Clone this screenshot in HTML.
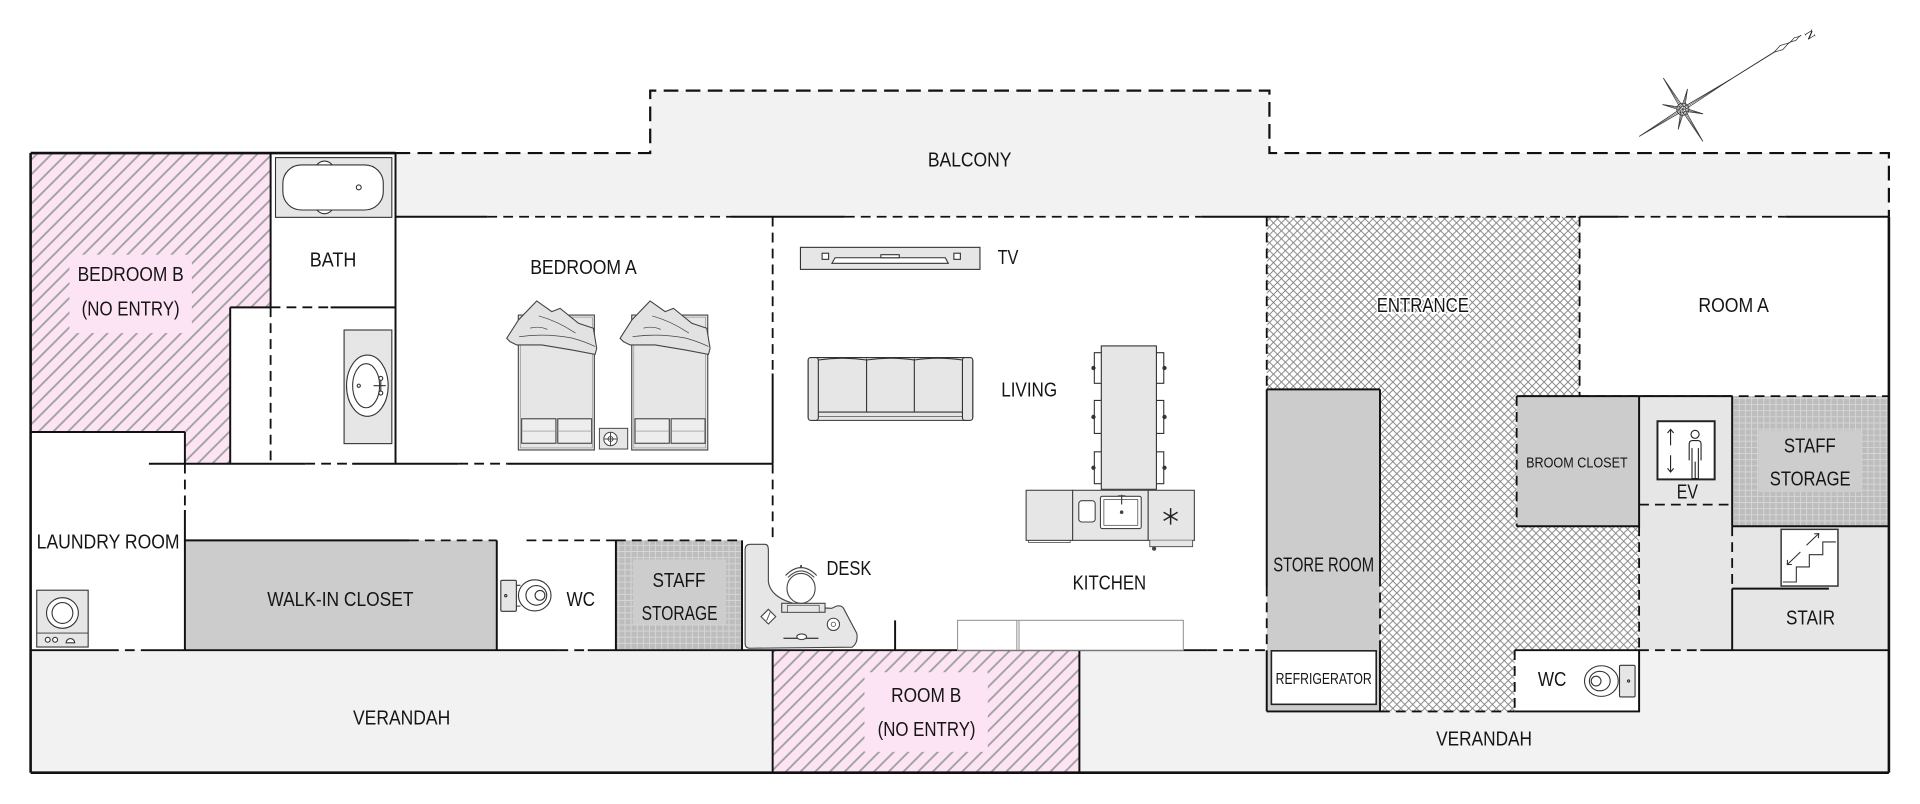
<!DOCTYPE html>
<html><head><meta charset="utf-8"><style>
html,body{margin:0;padding:0;background:#fff;}
svg{display:block;}
text{font-family:"Liberation Sans",sans-serif;fill:#151515;font-size:16.5px;}
</style></head><body>
<svg width="1920" height="804" viewBox="0 0 1568 656.6" preserveAspectRatio="none" xmlns="http://www.w3.org/2000/svg">
<defs>
<pattern id="pink" patternUnits="userSpaceOnUse" width="12" height="12">
 <rect width="12" height="12" fill="#fde4f5"/>
 <path d="M-3,3 L3,-3 M0,12 L12,0 M9,15 L15,9" stroke="#a0a0a0" stroke-width="1.5"/>
</pattern>
<pattern id="cross" patternUnits="userSpaceOnUse" width="6.5" height="6.5">
 <rect width="6.5" height="6.5" fill="#fff"/>
 <path d="M0,0 L6.5,6.5 M6.5,0 L0,6.5" stroke="#7c7c7c" stroke-width="0.7"/>
</pattern>
<pattern id="grid" patternUnits="userSpaceOnUse" width="5" height="5">
 <rect width="5" height="5" fill="#bdbdbd"/>
 <path d="M0,0.4 H5 M0.4,0 V5" stroke="#d6d6d6" stroke-width="0.8"/>
</pattern>
</defs>

<!-- FILLS -->
<polygon points="323,125 531,125 531,74 1036.7,74 1036.7,125 1542.6,125 1542.6,177 323,177" fill="#f2f2f2"/>
<rect x="25" y="531" width="1517.6" height="100" fill="#f2f2f2"/>
<rect x="631" y="531" width="250.5" height="100" fill="url(#pink)"/>
<polygon points="25,125 221,125 221,251 188,251 188,378.7 151,378.7 151,352.8 25,352.8" fill="url(#pink)"/>
<rect x="56.7" y="208" width="100" height="64" fill="#fde4f5"/>
<rect x="706" y="549" width="100.7" height="65" fill="#fde4f5"/>
<polygon points="1034.5,177 1290,177 1290,323.5 1238.6,323.5 1238.6,429.8 1338.6,429.8 1338.6,531 1237,531 1237,581 1127,581 1127,318 1034.5,318" fill="url(#cross)"/>
<rect x="1034.5" y="318" width="92.5" height="263" fill="#cccccc"/>
<rect x="1238.6" y="323.5" width="100" height="106.3" fill="#cccccc"/>
<rect x="1338.6" y="323.5" width="76" height="207.5" fill="#e6e6e6"/>
<rect x="1414.6" y="429.8" width="128" height="101.2" fill="#e6e6e6"/>
<rect x="1414.6" y="323.5" width="128" height="106.3" fill="url(#grid)"/>
<rect x="1436" y="351.4" width="84" height="50.4" fill="#cdcdcd"/>
<rect x="1237" y="531" width="101.6" height="50" fill="#fff"/>
<rect x="151" y="441.3" width="254.7" height="89.7" fill="#cccccc"/>
<rect x="503" y="441.3" width="103" height="89.7" fill="url(#grid)"/>
<rect x="517" y="457" width="76" height="53" fill="#cdcdcd"/>

<!-- REFRIGERATOR BOX -->
<rect x="1038.3" y="531.5" width="85.6" height="43.7" fill="#fff" stroke="#222" stroke-width="1.3"/>

<!-- SOLID WALLS -->
<path fill="none" stroke="#111" stroke-width="2.1" d="M25,125 H323 M25,125 V631 M25,631 H1542.6 M1542.6,177 V631"/>
<path fill="none" stroke="#111" stroke-width="1.6" d="
M221,125 V251 M188,251 H221 M188,251 V378.7 M121.6,378.7 H249.3 M287.6,378.7 H374.3 M414.3,378.7 H631
M151,352.8 V378.7 M25,352.8 H151 M323,125 V378.7 M270,251 H323
M323,177 H398 M597,177 H690 M981,177 H1045 M1290,177 H1322 M1458,177 H1542.6
M631,305 V378.7 M151,416.5 V531 M151,441.3 H334 M405.7,441.3 V531 M503,441.3 V531 M606,441.3 V531
M25,531 H89 M118,531 H456 M480,531 H986 M731,506.6 V531 M631,531 V631 M881.5,531 V631
M1034.5,318 H1127 M1034.5,318 V479 M1034.5,531 V581 M1127,318 V471 M1127,531 V581 M1034.5,581 H1127
M1238.6,323.5 H1338.6 V429.8 H1238.6 M1338.6,323.5 H1414.6 M1414.6,323.5 V429.8 M1414.6,429.8 H1542.6
M1414.6,480.7 H1493.6 M1414.6,480.7 V531 M1237,531 H1338.6 V581 H1237 M1388.6,531 H1542.6"/>

<!-- DASHED -->
<path fill="none" stroke="#111" stroke-width="1.8" stroke-dasharray="12 6" d="M323,125 H531 V74 H1036.7 V125 H1542.6 V177"/>
<path fill="none" stroke="#111" stroke-width="1.5" stroke-dasharray="8 5" d="
M398,177 H597 M690,177 H981 M1045,177 H1290 M1322,177 H1458
M221,251 H270 M221,251 V378.7 M249.3,378.7 H287.6 M374.3,378.7 H414.3
M631,177 V305 M631,378.7 V441.3 M151,378.7 V416.5
M334,441.3 H405.7 M430,441.3 H503 M503,441.3 H606
M89,531 H118 M456,531 H480 M986,531 H1034.5
M1034.5,177 V318 M1034.5,479 V531 M1127,471 V531 M1290,177 V323.5 M1290,323.5 H1542.6
M1238.6,323.5 V429.8 M1338.6,429.8 V531 M1338.6,412.1 H1414.6 M1414.6,429.8 V480.7
M1338.6,531 H1388.6 M1237,531 V581 M1127,581 H1237"/>

<!-- BATHTUB -->
<g stroke="#333" stroke-width="0.9">
<rect x="225" y="128.7" width="95" height="48.8" fill="#e6e6e6"/>
<ellipse cx="265" cy="153" rx="12" ry="21.5" fill="#fff"/>
<rect x="231" y="134.7" width="82" height="36.8" rx="15" fill="#fff"/>
<circle cx="293" cy="153" r="2" fill="#fff"/>
</g>
<!-- SINK -->
<g stroke="#333" stroke-width="0.9">
<rect x="281" y="269.5" width="39" height="92.8" fill="#e6e6e6"/>
<ellipse cx="300" cy="315" rx="17" ry="25" fill="#fff"/>
<ellipse cx="299" cy="315" rx="11" ry="18" fill="#fff"/>
<circle cx="293" cy="315" r="1.3" fill="#fff"/>
<path d="M305,315 H315 M311,309 V321" fill="none"/>
<circle cx="311" cy="309" r="1.6" fill="#fff"/><circle cx="311" cy="321" r="1.6" fill="#fff"/>
</g>

<!-- BEDS -->
<g stroke="#444" stroke-width="0.9">
<rect x="423.3" y="257.3" width="62.1" height="110.2" fill="#e6e6e6"/>
<rect x="425" y="259" width="58.7" height="106.8" fill="none" stroke="#888" stroke-width="0.5"/>
<rect x="426" y="342" width="28" height="20" fill="#ededed"/>
<rect x="455.5" y="342" width="27.7" height="20" fill="#ededed"/>
<path d="M426,352 H454 M455.5,352 H483.2" stroke="#888" stroke-width="0.5"/>
<path d="M413.8,276.3 L423.4,261.3 L438.3,245.8 L450.6,254.5 L457.4,251.8 L472.4,264 L484.6,268.1 L487.3,284.5 L486,289.4 L466.9,285.8 L442.4,281.7 L422,281.7 L416.5,279 Z" fill="#e2e2e2"/>
<path d="M424,275 Q445,272 467,276 Q478,279 486,283 M440,258 Q455,262 470,272 M433,268 Q440,266 447,269" fill="none" stroke-width="0.6"/>
</g>
<g transform="translate(92.6,0)" stroke="#444" stroke-width="0.9">
<rect x="423.3" y="257.3" width="62.1" height="110.2" fill="#e6e6e6"/>
<rect x="425" y="259" width="58.7" height="106.8" fill="none" stroke="#888" stroke-width="0.5"/>
<rect x="426" y="342" width="28" height="20" fill="#ededed"/>
<rect x="455.5" y="342" width="27.7" height="20" fill="#ededed"/>
<path d="M426,352 H454 M455.5,352 H483.2" stroke="#888" stroke-width="0.5"/>
<path d="M413.8,276.3 L423.4,261.3 L438.3,245.8 L450.6,254.5 L457.4,251.8 L472.4,264 L484.6,268.1 L487.3,284.5 L486,289.4 L466.9,285.8 L442.4,281.7 L422,281.7 L416.5,279 Z" fill="#e2e2e2"/>
<path d="M424,275 Q445,272 467,276 Q478,279 486,283 M440,258 Q455,262 470,272 M433,268 Q440,266 447,269" fill="none" stroke-width="0.6"/>
</g>
<g stroke="#444" stroke-width="0.8" fill="none">
<rect x="489.5" y="349.8" width="23.1" height="16.9" fill="#e6e6e6"/>
<circle cx="498.6" cy="358.5" r="5.5" fill="#fff"/>
<path d="M498.6,353 V364 M493.1,358.5 H504.1"/>
<circle cx="498.6" cy="358.5" r="2"/>
</g>

<!-- TV -->
<g stroke="#333" stroke-width="0.9" fill="none">
<rect x="653.7" y="202" width="146.6" height="18" fill="#e6e6e6"/>
<rect x="671.4" y="206.8" width="5.3" height="5" fill="#fff"/>
<rect x="779" y="206.8" width="5.3" height="5" fill="#fff"/>
<path d="M682,210.5 H772 L774.4,215 H679.4 Z" fill="#fff"/>
<rect x="719.4" y="208" width="15" height="2.5" fill="#fff"/>
</g>

<!-- SOFA -->
<g stroke="#333" stroke-width="0.9">
<rect x="660" y="292" width="134.4" height="51.3" rx="3" fill="#e6e6e6"/>
<rect x="660" y="292" width="8.3" height="51.3" rx="2" fill="#e6e6e6"/>
<rect x="786" y="292" width="8.4" height="51.3" rx="2" fill="#e6e6e6"/>
<path d="M668.3,336.5 H786 M707.7,293 V336.5 M746.7,293 V336.5 M668.3,294 Q688,291 707.7,294 Q727,291 746.7,294 Q766,291 786,294" fill="none"/>
<path d="M668.3,340 H786" fill="none" stroke-width="0.5"/>
</g>

<!-- DINING TABLE -->
<g stroke="#333" stroke-width="0.9" fill="none">
<rect x="899.4" y="282.5" width="45" height="117.1" fill="#e6e6e6"/>
<path d="M899.4,288 H893.7 V313 H899.4 M899.4,327 H893.7 V354 H899.4 M899.4,369 H893.7 V395 H899.4"/>
<path d="M944.4,288 H950.4 V313 H944.4 M944.4,327 H950.4 V354 H944.4 M944.4,369 H950.4 V395 H944.4"/>
<g fill="#333"><circle cx="893" cy="300.5" r="1.3"/><circle cx="893" cy="340.5" r="1.3"/><circle cx="893" cy="382" r="1.3"/>
<circle cx="951" cy="300.5" r="1.3"/><circle cx="951" cy="340.5" r="1.3"/><circle cx="951" cy="382" r="1.3"/></g>
</g>

<!-- KITCHEN ISLAND -->
<g stroke="#444" stroke-width="0.9" fill="#e6e6e6">
<rect x="838" y="400.4" width="38" height="40.9"/>
<path d="M840,441.3 V443 H874 V441.3" fill="none" stroke-width="0.6"/>
<rect x="876" y="400.4" width="61.7" height="40.9"/>
<rect x="937.7" y="400.4" width="37.7" height="40.9"/>
<path d="M939,441.3 V446.5 H974 V441.3" stroke-width="0.7"/>
<circle cx="942.5" cy="448" r="1.3" fill="#444"/>
<rect x="881" y="408.9" width="13.4" height="17.4" rx="2.5" fill="#fff"/>
<rect x="898.7" y="405.3" width="33.3" height="26.4" rx="1.5" fill="#fff"/>
<rect x="901.5" y="408" width="27.7" height="21" fill="#fff" stroke-width="0.6"/>
<path d="M916,404 V412 M913,405 H919" fill="none" stroke-width="1"/>
<circle cx="916" cy="418.3" r="1" fill="#444"/>
<path d="M956,415 V428.4 M950.3,418.3 L961.7,425 M950.3,425 L961.7,418.3" fill="none" stroke="#222" stroke-width="1.2"/>
</g>

<!-- KITCHEN COUNTER -->
<g stroke="#999" stroke-width="0.9" fill="#fff">
<rect x="782" y="506.6" width="184.4" height="24.4"/>
<path d="M830.4,506.6 V531 M832.2,506.6 V531" fill="none"/>
</g>

<!-- DESK -->
<g stroke="#444" stroke-width="0.9">
<path d="M608.5,449.1 Q608.5,444.5 612.6,444.5 H624.8 Q627.5,444.5 627.5,449.1 V475 Q630.2,495.4 679.2,496.8 L683,495 Q687.4,494 689,497 L699.7,517.2 Q701,525 696,528.5 L612.6,529.4 Q608.5,529.4 608.5,525.4 Z" fill="#e6e6e6"/>
<rect x="638.4" y="492.7" width="35.4" height="7.3" fill="#e6e6e6"/>
<rect x="643" y="494.3" width="26" height="5.7" fill="#e6e6e6" stroke-width="0.6"/>
<ellipse cx="654.2" cy="480.5" rx="11.5" ry="12.2" fill="#fff"/>
<path d="M641.5,470 Q654.2,457 667,470 M643.5,471.5 Q654.2,461 665,471.5" fill="none"/>
<path d="M654.2,461.5 V464" stroke-width="1.5"/>
<path d="M627.5,497.6 L633.5,503.6 L627.5,509.6 L621.5,503.6 Z" fill="#fff"/>
<path d="M626,507 L629,500" fill="none" stroke-width="0.7"/>
<circle cx="680.6" cy="509.9" r="5" fill="#fff"/>
<circle cx="680.6" cy="509.9" r="1.8" fill="none" stroke-width="0.6"/>
<path d="M639.8,521.3 H668.4" fill="none" stroke-width="1.2"/>
<ellipse cx="654.7" cy="520" rx="4" ry="2.3" fill="#fff"/>
</g>

<!-- WASHER -->
<g stroke="#333" stroke-width="0.9">
<rect x="30" y="482" width="42" height="46.4" fill="#e6e6e6"/>
<ellipse cx="51" cy="500.6" rx="13" ry="12.5" fill="#fff"/>
<ellipse cx="51" cy="500.6" rx="8.5" ry="8.5" fill="none"/>
<path d="M30,517 H72" fill="none" stroke-width="0.7"/>
<circle cx="39" cy="522.5" r="2" fill="#fff"/><circle cx="45" cy="522.5" r="2" fill="#fff"/>
<path d="M54,525 a3.5,3.5 0 0 1 7,0 z" fill="#fff"/>
</g>

<!-- TOILETS -->
<g stroke="#333" stroke-width="0.9">
<rect x="409" y="473.9" width="12.7" height="25.3" rx="1" fill="#e6e6e6"/>
<circle cx="413" cy="486.5" r="0.9" fill="none"/>
<path d="M421.7,478 L425,478 M421.7,495 L425,495" fill="none"/>
<ellipse cx="436.7" cy="486.2" rx="13.3" ry="12.7" fill="#fff"/>
<ellipse cx="438" cy="486.2" rx="8.5" ry="8" fill="none"/>
<circle cx="441" cy="486.2" r="4" fill="none"/>
<rect x="1322.6" y="543.3" width="12.7" height="25.9" rx="1" fill="#e6e6e6"/>
<circle cx="1330" cy="556.2" r="0.9" fill="none"/>
<ellipse cx="1307.8" cy="556.2" rx="13.8" ry="12.5" fill="#fff"/>
<ellipse cx="1306.5" cy="556.2" rx="8.5" ry="8" fill="none"/>
<circle cx="1303.5" cy="556.2" r="4" fill="none"/>
</g>

<!-- EV ICON -->
<g stroke="#222" fill="none">
<rect x="1353.6" y="344" width="46.7" height="47.5" fill="#fff" stroke-width="1.6"/>
<path d="M1364.3,363.7 V350.6 M1361.8,353.6 L1364.3,350.6 L1366.8,353.6 M1364.3,371.8 V385.5 M1361.8,382.5 L1364.3,385.5 L1366.8,382.5" stroke-width="0.9"/>
<circle cx="1384.3" cy="354.7" r="3.3" stroke-width="0.9"/>
<path d="M1379.5,376 V362.5 Q1379.5,359.8 1382.5,359.8 H1386.3 Q1389.2,359.8 1389.2,362.5 V376 M1381.8,366 V390.8 H1387 V366 M1384.4,377 V390.8" stroke-width="0.9"/>
</g>

<!-- STAIR ICON -->
<g stroke="#333" fill="none" stroke-width="0.9">
<rect x="1454.6" y="432.3" width="46.4" height="46.3" fill="#fff" stroke-width="1.2"/>
<path d="M1456,475.3 H1467 V463 H1477.6 V453 H1488.6 V442.6 H1499.3"/>
<path d="M1475.3,445.3 L1485.3,435.8 M1481.5,436 L1485.3,435.8 L1485,439.5"/>
<path d="M1470.3,450.8 L1459.6,461.1 M1459.8,457.3 L1459.6,461.1 L1463.4,461"/>
</g>

<!-- COMPASS -->
<g transform="translate(1374.3,89.2) rotate(-32)" stroke="#333" stroke-width="0.6">
<line x1="40" y1="0" x2="114" y2="0" stroke-width="0.8"/>
<path d="M88,0 L95,-2 L102,0 L95,2 Z M104,0 L108,-1.3 L112,0 L108,1.3 Z" fill="#fff"/>
<polygon fill="#fff" points="46,0 2.77,1.15 12.02,12.02 1.15,2.77 0,31 -1.15,2.77 -12.02,12.02 -2.77,1.15 -42,0 -2.77,-1.15 -12.02,-12.02 -1.15,-2.77 0,-30 1.15,-2.77 12.02,-12.02 2.77,-1.15"/>
<path d="M0,0 L46,0 M0,0 L-42,0 M0,0 L0,31 M0,0 L0,-30 M0,0 L12,12 M0,0 L-12,12 M0,0 L-12,-12 M0,0 L12,-12" stroke-width="0.4"/>
<circle cx="0" cy="0" r="5" fill="none"/>
<circle cx="0" cy="0" r="2.5" fill="none"/>
<text x="121" y="4" transform="rotate(90 121 0)" style="font-size:10px;font-family:'Liberation Serif',serif" stroke="none">N</text>
</g>

<!-- LABELS -->
<g text-anchor="middle">
<text x="791.9" y="135.8" textLength="68.3" lengthAdjust="spacingAndGlyphs">BALCONY</text>
<text x="272" y="217.8" textLength="38" lengthAdjust="spacingAndGlyphs">BATH</text>
<text x="476.5" y="223.6" textLength="87" lengthAdjust="spacingAndGlyphs">BEDROOM A</text>
<text x="106.7" y="229.6" textLength="86.7" lengthAdjust="spacingAndGlyphs">BEDROOM B</text>
<text x="106.7" y="257.6" textLength="80" lengthAdjust="spacingAndGlyphs">(NO ENTRY)</text>
<text x="823.2" y="215.6" textLength="17" lengthAdjust="spacingAndGlyphs">TV</text>
<text x="840.5" y="324" textLength="45.7" lengthAdjust="spacingAndGlyphs">LIVING</text>
<text x="88.3" y="448" textLength="116.7" lengthAdjust="spacingAndGlyphs">LAUNDRY ROOM</text>
<text x="278" y="495" textLength="119.4" lengthAdjust="spacingAndGlyphs">WALK-IN CLOSET</text>
<text x="474.3" y="495" textLength="23.3" lengthAdjust="spacingAndGlyphs">WC</text>
<text x="554.5" y="479.4" textLength="43.3" lengthAdjust="spacingAndGlyphs">STAFF</text>
<text x="555" y="506.3" textLength="62" lengthAdjust="spacingAndGlyphs">STORAGE</text>
<text x="693.3" y="469.6" textLength="36.7" lengthAdjust="spacingAndGlyphs">DESK</text>
<text x="906" y="481.3" textLength="60" lengthAdjust="spacingAndGlyphs">KITCHEN</text>
<text x="756.4" y="573.3" textLength="57.3" lengthAdjust="spacingAndGlyphs">ROOM B</text>
<text x="756.7" y="601" textLength="80" lengthAdjust="spacingAndGlyphs">(NO ENTRY)</text>
<text x="328" y="591.5" textLength="79.4" lengthAdjust="spacingAndGlyphs">VERANDAH</text>
<text x="1162" y="255" textLength="75.3" lengthAdjust="spacingAndGlyphs" stroke="#fff" stroke-width="3" paint-order="stroke">ENTRANCE</text>
<text x="1415.8" y="255" textLength="57.6" lengthAdjust="spacingAndGlyphs">ROOM A</text>
<text x="1081" y="466.6" textLength="82.3" lengthAdjust="spacingAndGlyphs">STORE ROOM</text>
<text x="1081" y="558.6" textLength="78.4" lengthAdjust="spacingAndGlyphs" style="font-size:12.5px">REFRIGERATOR</text>
<text x="1287.8" y="381.6" textLength="83" lengthAdjust="spacingAndGlyphs" style="font-size:12px">BROOM CLOSET</text>
<text x="1378" y="407.3" textLength="17.3" lengthAdjust="spacingAndGlyphs">EV</text>
<text x="1478" y="369.7" textLength="42.3" lengthAdjust="spacingAndGlyphs">STAFF</text>
<text x="1478.3" y="396.4" textLength="66" lengthAdjust="spacingAndGlyphs">STORAGE</text>
<text x="1478.6" y="509.9" textLength="40" lengthAdjust="spacingAndGlyphs">STAIR</text>
<text x="1267.6" y="560.2" textLength="23.3" lengthAdjust="spacingAndGlyphs">WC</text>
<text x="1212" y="609" textLength="78.3" lengthAdjust="spacingAndGlyphs">VERANDAH</text>
</g>
</svg>
</body></html>
